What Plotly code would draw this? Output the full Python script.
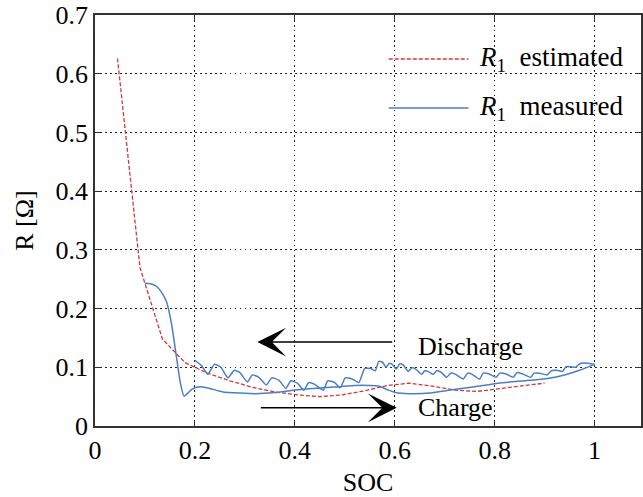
import plotly.graph_objects as go

# ---------------- data ----------------
est_soc = [0.045, 0.090, 0.135, 0.180, 0.225, 0.270, 0.315, 0.360, 0.405, 0.450,
           0.495, 0.540, 0.585, 0.630, 0.675, 0.720, 0.765, 0.810, 0.855, 0.900]
est_r = [0.626, 0.270, 0.148, 0.108, 0.090, 0.077, 0.066, 0.058, 0.053, 0.050,
         0.053, 0.060, 0.069, 0.073, 0.068, 0.061, 0.059, 0.064, 0.069, 0.073]

# measured: charge branch (SOC increasing)
charge_soc = [0.100, 0.113, 0.123, 0.133, 0.143, 0.153, 0.163, 0.171, 0.178, 0.186,
              0.193, 0.203, 0.213, 0.230, 0.256, 0.290, 0.322, 0.360, 0.390, 0.420,
              0.455, 0.490, 0.520, 0.550, 0.568, 0.585, 0.601, 0.630, 0.670, 0.707,
              0.760, 0.807, 0.860, 0.906, 0.940, 0.970, 1.000]
charge_r = [0.243, 0.242, 0.238, 0.228, 0.212, 0.175, 0.118, 0.073, 0.051, 0.056,
            0.062, 0.066, 0.067, 0.064, 0.058, 0.056, 0.055, 0.057, 0.060, 0.063,
            0.065, 0.067, 0.069, 0.069, 0.068, 0.062, 0.057, 0.055, 0.056, 0.061,
            0.067, 0.073, 0.077, 0.081, 0.087, 0.095, 0.105]

# measured: discharge branch (SOC decreasing, with relaxation ripples)
discharge_soc = [1.000, 0.985, 0.973, 0.966, 0.963, 0.952, 0.943, 0.936, 0.925, 0.913,
                 0.905, 0.890, 0.879, 0.872, 0.855, 0.845, 0.837, 0.822, 0.810, 0.803,
                 0.788, 0.777, 0.770, 0.755, 0.746, 0.737, 0.722, 0.712, 0.704, 0.692,
                 0.684, 0.677, 0.667, 0.660, 0.654, 0.642, 0.634, 0.627, 0.617, 0.610,
                 0.603, 0.595, 0.589, 0.583, 0.575, 0.568, 0.561, 0.552, 0.540, 0.528,
                 0.515, 0.501, 0.491, 0.480, 0.466, 0.457, 0.440, 0.428, 0.418, 0.405,
                 0.392, 0.382, 0.368, 0.354, 0.343, 0.328, 0.315, 0.305, 0.290, 0.279,
                 0.266, 0.252, 0.239, 0.226, 0.213, 0.200]
discharge_r = [0.105, 0.107, 0.107, 0.103, 0.100, 0.101, 0.101, 0.093, 0.095, 0.094,
               0.087, 0.090, 0.090, 0.083, 0.089, 0.091, 0.083, 0.089, 0.090, 0.083,
               0.089, 0.090, 0.080, 0.088, 0.090, 0.080, 0.088, 0.090, 0.083, 0.092,
               0.094, 0.088, 0.093, 0.094, 0.088, 0.097, 0.099, 0.093, 0.104, 0.106,
               0.097, 0.105, 0.107, 0.100, 0.109, 0.110, 0.094, 0.098, 0.098, 0.074,
               0.080, 0.082, 0.065, 0.074, 0.077, 0.061, 0.071, 0.074, 0.061, 0.073,
               0.077, 0.064, 0.078, 0.082, 0.070, 0.083, 0.087, 0.075, 0.091, 0.095,
               0.082, 0.100, 0.105, 0.088, 0.103, 0.112]

meas_soc = charge_soc + discharge_soc
meas_r = charge_r + discharge_r

x_ticks = [0, 0.2, 0.4, 0.6, 0.8, 1]
y_ticks = [0, 0.1, 0.2, 0.3, 0.4, 0.5, 0.6, 0.7]

RED = "#cc3b3b"
BLUE = "#4a7fc8"
FONT = "Liberation Serif, Times New Roman, Times, serif"
FS = 26

fig = go.Figure()
fig.add_trace(go.Scatter(x=est_soc, y=est_r, mode="lines", name="R1 estimated",
                         line=dict(color=RED, width=1.3, dash="4px,2px"),
                         showlegend=False))
fig.add_trace(go.Scatter(x=meas_soc, y=meas_r, mode="lines", name="R1 measured",
                         line=dict(color=BLUE, width=1.5, shape="spline", smoothing=0.5),
                         showlegend=False))

axis_common = dict(
    showline=True, linecolor="#333333", linewidth=1.5, mirror="allticks",
    ticks="inside", ticklen=5, tickwidth=1, tickcolor="#333333",
    showgrid=True, gridcolor="#222222", gridwidth=1, griddash="1.5px,3.5px",
    zeroline=False,
    tickfont=dict(family=FONT, size=FS, color="black"),
)

fig.update_xaxes(range=[0, 1.093], tickvals=x_ticks,
                 ticktext=[f"{v:g}" for v in x_ticks],
                 title=dict(text="SOC", font=dict(family=FONT, size=FS, color="black"),
                            standoff=9),
                 **axis_common)
fig.update_yaxes(range=[0, 0.7], tickvals=y_ticks,
                 ticktext=[f"{v:g}" for v in y_ticks],
                 title=dict(text="R [Ω]", font=dict(family=FONT, size=FS, color="black"),
                            standoff=14),
                 **axis_common)

# arrows
fig.add_annotation(x=0.325, y=0.143, ax=0.598, ay=0.143, xref="x", yref="y",
                   axref="x", ayref="y", text="", showarrow=True,
                   arrowhead=3, arrowsize=3.2, arrowwidth=1.5, arrowcolor="black")
fig.add_annotation(x=0.604, y=0.031, ax=0.329, ay=0.031, xref="x", yref="y",
                   axref="x", ayref="y", text="", showarrow=True,
                   arrowhead=3, arrowsize=3.2, arrowwidth=1.5, arrowcolor="black")
fig.add_annotation(x=0.642, y=0.135, xref="x", yref="y", text="Discharge",
                   showarrow=False, xanchor="left", yanchor="middle",
                   font=dict(family=FONT, size=FS, color="black"))
fig.add_annotation(x=0.642, y=0.032, xref="x", yref="y", text="Charge",
                   showarrow=False, xanchor="left", yanchor="middle",
                   font=dict(family=FONT, size=FS, color="black"))

# legend (drawn manually for long sample lines)
leg = [("<i>R</i><sub>1</sub>  estimated", RED, "4px,2px", 1.3, 0.893),
       ("<i>R</i><sub>1</sub>  measured", BLUE, "solid", 1.5, 0.774)]
for text, color, dash, w, yy in leg:
    fig.add_shape(type="line", xref="paper", yref="paper", x0=0.538, x1=0.684,
                  y0=yy, y1=yy, line=dict(color=color, width=w, dash=dash))
    fig.add_annotation(x=0.700, y=yy, xref="paper", yref="paper", text=text,
                       showarrow=False, xanchor="left", yanchor="middle",
                       font=dict(family=FONT, size=27, color="black"))

fig.update_layout(
    width=643, height=497,
    margin=dict(l=95, r=0, t=15, b=71),
    paper_bgcolor="white", plot_bgcolor="white",
    font=dict(family=FONT, color="black"),
)

fig.write_html("out.html")
